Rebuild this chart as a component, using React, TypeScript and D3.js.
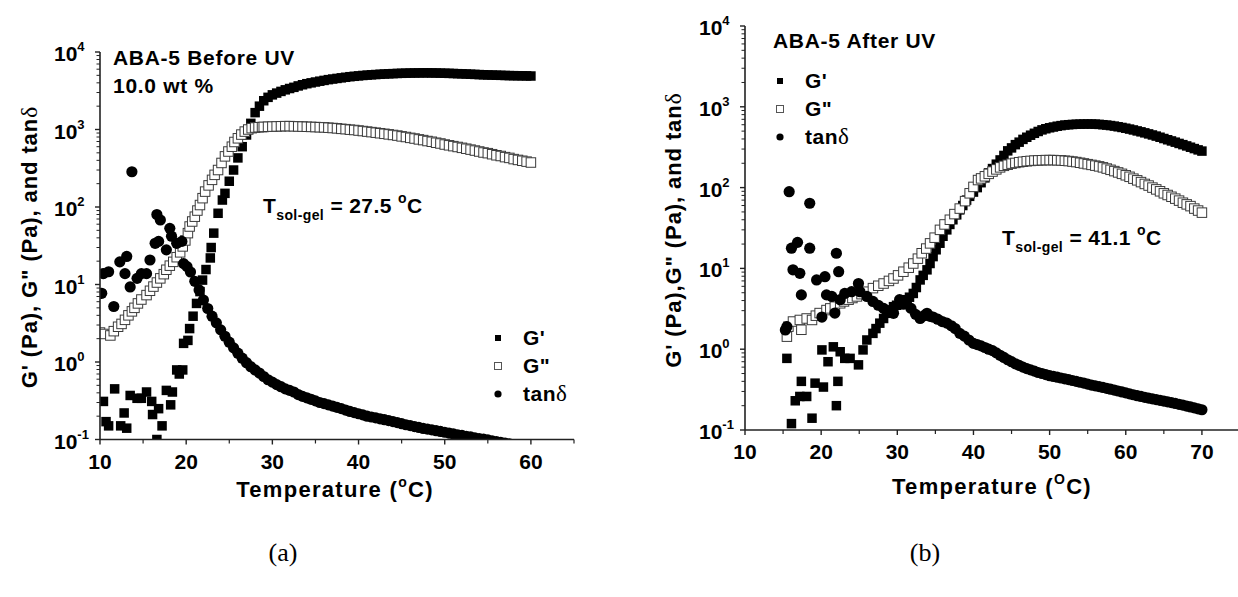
import React from 'react';
import * as d3 from 'd3';

// ---------- panel (a): ABA-5 before UV ----------
// scattered / sparse points as [temperature °C, value]
const aGpSparse: [number, number][] = [
  [10.4, 0.31], [10.7, 0.17], [11.0, 0.15], [11.7, 0.45], [12.4, 0.15], [12.8, 0.22],
  [13.1, 0.14], [13.5, 0.37], [14.3, 0.34], [14.8, 0.34], [15.4, 0.41], [16.0, 0.31],
  [16.1, 0.21], [16.6, 0.1], [16.8, 0.25], [17.2, 0.15], [17.7, 0.43], [18.2, 0.28],
  [18.4, 0.41], [18.9, 0.79], [19.2, 0.7], [19.6, 0.79], [19.7, 1.74], [20.2, 1.9],
  [20.4, 2.7], [20.8, 3.9], [21.2, 5.7], [21.6, 8.1], [21.9, 11.4], [22.3, 15.6],
  [22.8, 22], [22.9, 30], [23.2, 46], [23.7, 83], [24.2, 123],
];
// dense part, one reading every 0.5 °C from the start temperature
const aGpDenseStart = 24.5;
const aGpDense = [
  150, 215, 300, 430, 600, 850, 1200, 1650, 2000, 2350,
  2600, 2800, 2950, 3100, 3250, 3380, 3500, 3650, 3780, 3900,
  4000, 4100, 4200, 4300, 4400, 4480, 4560, 4640, 4720, 4800,
  4860, 4920, 4980, 5030, 5080, 5120, 5160, 5200, 5230, 5260,
  5290, 5310, 5330, 5350, 5360, 5370, 5380, 5380, 5370, 5360,
  5340, 5320, 5300, 5280, 5250, 5230, 5200, 5170, 5140, 5110,
  5080, 5060, 5040, 5020, 5000, 4980, 4960, 4950, 4940, 4930,
  4920, 4900,
];
const aGppSparse: [number, number][] = [
  [10.0, 2.4], [10.4, 2.3], [11.2, 2.2], [11.6, 2.5], [12.1, 2.85], [12.5, 3.1],
  [12.9, 3.5], [13.3, 4.0], [13.7, 4.5], [14.0, 5.0], [14.4, 5.7], [14.8, 6.4],
  [15.4, 7.3], [15.8, 8.3], [16.2, 9.4], [16.6, 10.6], [17.0, 12], [17.4, 13.6],
  [17.7, 15.5], [18.1, 17.5], [18.5, 19.6], [18.9, 22.5], [19.3, 26], [19.6, 31],
  [19.9, 37], [20.2, 46], [20.4, 56], [20.7, 65], [21.0, 75], [21.3, 90],
  [21.6, 106], [21.9, 130], [22.2, 158], [22.6, 190], [23.0, 224], [23.3, 260],
  [23.7, 300], [24.1, 370], [24.5, 450], [24.9, 520], [25.3, 600], [25.6, 690],
  [26.0, 770], [26.4, 860], [26.8, 940], [27.2, 1000], [27.6, 1040], [28.0, 1060],
  [28.4, 1070], [28.8, 1075],
];
const aGppDenseStart = 29.0;
const aGppDense = [
  1080, 1085, 1090, 1095, 1100, 1105, 1105, 1100, 1095, 1090,
  1085, 1080, 1075, 1070, 1065, 1055, 1045, 1035, 1020, 1010,
  995, 985, 970, 955, 940, 925, 910, 895, 880, 865,
  850, 835, 815, 800, 780, 765, 745, 730, 710, 695,
  675, 660, 640, 625, 610, 595, 580, 565, 550, 535,
  520, 505, 495, 480, 465, 455, 440, 430, 415, 405,
  395, 385, 375,
];
const aTanSparse: [number, number][] = [
  [10.2, 7.7], [10.4, 13.8], [11.0, 14.6], [11.6, 5.2], [12.3, 19.6], [12.9, 13.8],
  [13.1, 23], [13.5, 9.3], [13.7, 285], [14.3, 12], [14.8, 13.8], [15.4, 13.8],
  [15.8, 20.7], [16.4, 34], [16.6, 80], [16.8, 36], [17.0, 68], [17.7, 28],
  [18.1, 53], [18.3, 42], [18.9, 34], [19.5, 36], [19.7, 18.6], [20.1, 17],
];
const aTanDenseStart = 20.5;
const aTanDense = [
  14.5, 11, 8.5, 6.3, 4.9, 3.9, 3.2, 2.6, 2.15, 1.8,
  1.52, 1.3, 1.12, 0.98, 0.87, 0.79, 0.72, 0.65, 0.59, 0.55,
  0.51, 0.48, 0.45, 0.43, 0.41, 0.38, 0.36, 0.345, 0.33, 0.315,
  0.3, 0.29, 0.28, 0.27, 0.26, 0.25, 0.24, 0.23, 0.222, 0.215,
  0.208, 0.2, 0.195, 0.19, 0.185, 0.18, 0.175, 0.17, 0.165, 0.16,
  0.155, 0.151, 0.147, 0.143, 0.139, 0.136, 0.133, 0.13, 0.127, 0.124,
  0.121, 0.118, 0.115, 0.113, 0.11, 0.108, 0.105, 0.103, 0.101, 0.099,
  0.096, 0.094, 0.092, 0.09, 0.088, 0.086, 0.084, 0.082, 0.081, 0.079,
];

// ---------- panel (b): ABA-5 after UV ----------
const bGpSparse: [number, number][] = [
  [15.5, 0.77], [16.1, 0.12], [16.6, 0.23], [17.2, 0.26], [17.4, 0.4], [18.1, 0.26],
  [18.8, 0.14], [19.2, 0.38], [20.1, 0.98], [20.3, 0.34], [20.9, 0.7], [21.6, 1.07],
  [22.0, 0.2], [22.2, 0.4], [22.5, 0.93], [23.1, 0.77], [23.8, 0.77], [24.9, 0.64],
  [25.5, 0.98], [26.0, 1.3], [26.8, 1.57], [27.2, 1.8], [27.7, 2.1], [28.2, 2.4],
  [28.6, 2.78], [29.0, 3.0], [29.5, 3.36], [29.9, 3.5], [30.3, 3.7], [30.8, 3.9],
  [31.2, 4.1], [31.6, 4.4], [32.1, 4.9], [32.5, 5.8], [33.0, 7.2], [33.4, 8.2],
  [33.9, 9.6], [34.3, 11.5], [34.7, 14], [35.1, 17], [35.6, 20.5], [36.0, 25],
  [36.5, 30], [36.9, 35], [37.3, 40], [37.8, 46], [38.2, 53], [38.6, 60],
  [39.1, 70], [39.5, 78], [40.0, 88],
];
const bGpDenseStart = 40.5;
const bGpDense = [
  100, 115, 132, 152, 172, 195, 220, 250, 285, 310,
  340, 365, 395, 420, 445, 470, 495, 518, 535, 550,
  562, 575, 585, 595, 600, 605, 608, 610, 612, 612,
  612, 610, 606, 600, 594, 586, 577, 566, 555, 543,
  530, 517, 503, 490, 476, 462, 448, 434, 420, 405,
  391, 378, 365, 352, 340, 328, 316, 304, 293, 283,
];
const bGppSparse: [number, number][] = [
  [15.5, 1.43], [15.7, 1.9], [16.3, 2.2], [17.2, 2.3], [17.4, 1.74], [18.1, 2.4],
  [18.8, 2.3], [19.3, 2.6], [19.8, 2.8], [20.7, 3.05], [21.2, 3.2], [21.8, 3.36],
  [22.5, 3.7], [23.0, 3.9], [23.6, 4.1], [24.1, 4.3], [24.7, 4.5], [25.3, 4.8],
  [26.0, 5.15], [26.8, 5.7], [27.5, 6.1], [28.2, 6.5], [28.9, 7.0], [29.5, 7.5],
  [30.1, 8.2], [30.8, 9.1], [31.5, 10.2], [32.1, 11.5], [32.7, 13.2], [33.2, 15.4],
  [33.8, 17.6], [34.3, 20.4], [34.9, 24], [35.6, 30], [36.2, 35], [36.9, 40],
  [37.5, 47], [38.2, 55], [38.9, 68], [39.5, 85], [40.0, 102], [40.6, 124],
];
const bGppDenseStart = 41.0;
const bGppDense = [
  130, 138, 148, 158, 168, 178, 186, 192, 198, 202,
  206, 209, 212, 214, 216, 217, 218, 219, 219, 219,
  218, 217, 215, 213, 210, 207, 203, 199, 195, 191,
  187, 183, 178, 172, 166, 160, 154, 148, 142, 136,
  129, 123, 117, 111, 106, 100, 95, 90, 85, 81,
  77, 73, 69, 65, 62, 59, 55, 52, 49,
];
const bTanSparse: [number, number][] = [
  [15.3, 1.73], [15.5, 1.9], [15.8, 89], [16.1, 17.8], [16.3, 9.6], [16.9, 21],
  [17.2, 8.7], [17.4, 4.7], [18.5, 64], [18.5, 17.8], [19.4, 7.2], [20.1, 2.5],
  [20.5, 7.9], [20.7, 4.7], [21.4, 4.5], [21.8, 2.8], [22.0, 15.4], [22.3, 9.1],
  [22.5, 4.1], [23.1, 4.9], [24.0, 5.15], [24.9, 6.5], [25.1, 5.15], [26.0, 4.5],
  [26.8, 3.9], [27.5, 3.5], [28.2, 3.2], [28.9, 3.0], [29.5, 2.78], [30.3, 4.1],
  [30.8, 3.6], [31.2, 3.7], [31.8, 3.2], [32.4, 2.7], [33.0, 2.4], [33.5, 2.6],
  [33.9, 2.78], [34.3, 2.55], [34.7, 2.5], [35.3, 2.35], [35.9, 2.2], [36.5, 2.1],
  [37.1, 1.95], [37.6, 1.8], [38.2, 1.57], [38.8, 1.45], [39.4, 1.3], [40.0, 1.18],
];
const bTanDenseStart = 40.5;
const bTanDense = [
  1.14, 1.1, 1.05, 1.0, 0.96, 0.9, 0.84, 0.79, 0.74, 0.7,
  0.66, 0.63, 0.6, 0.575, 0.555, 0.535, 0.515, 0.5, 0.485, 0.47,
  0.46, 0.45, 0.44, 0.43, 0.42, 0.41, 0.4, 0.39, 0.38, 0.37,
  0.36, 0.352, 0.344, 0.336, 0.328, 0.32, 0.312, 0.304, 0.296, 0.288,
  0.28, 0.273, 0.266, 0.26, 0.254, 0.248, 0.243, 0.238, 0.233, 0.228,
  0.223, 0.218, 0.213, 0.208, 0.203, 0.198, 0.193, 0.188, 0.183, 0.178,
];

const xTicksA = [10, 20, 30, 40, 50, 60];
const xTicksB = [10, 20, 30, 40, 50, 60, 70];
const yExponents = [-1, 0, 1, 2, 3, 4];
const legendLabels = ["G'", 'G"', 'tan'];

const SANS = '"Liberation Sans", Arial, sans-serif';
const SERIF = '"Liberation Serif", "Times New Roman", serif';

const withDense = (sparse: [number, number][], t0: number, vals: number[]) =>
  sparse.concat(vals.map((v, i) => [t0 + i * 0.5, v] as [number, number]));

type Pt = [number, number];

function Panel({ id, xDomain, xRange, yRange, xTicks, gp, gpp, tan, children }: {
  id: string; xDomain: [number, number]; xRange: [number, number]; yRange: [number, number];
  xTicks: number[]; gp: Pt[]; gpp: Pt[]; tan: Pt[]; children?: React.ReactNode;
}) {
  const x = d3.scaleLinear().domain(xDomain).range(xRange);
  const y = d3.scaleLog().domain([0.1, 1e4]).range(yRange);
  const [x0, x1] = xRange;
  const [yb, yt] = yRange;
  const minorX = d3.range(xDomain[0] + 5, xDomain[1] + 0.1, 10);
  const minorY: number[] = [];
  yExponents.slice(0, -1).forEach((e) => {
    for (let m = 2; m <= 9; m++) minorY.push(m * Math.pow(10, e));
  });
  const sq = 9.5;
  const axis = '#222';

  return (
    <g>
      <defs>
        <clipPath id={`clip-${id}`}>
          <rect x={x0} y={yt} width={x1 - x0} height={yb - yt} />
        </clipPath>
      </defs>
      <g clipPath={`url(#clip-${id})`}>
        {gp.map(([t, v], i) => (
          <rect key={`gp${i}`} x={x(t) - sq / 2} y={y(v) - sq / 2} width={sq} height={sq} fill="#000" />
        ))}
        {gpp.map(([t, v], i) => (
          <rect key={`gpp${i}`} x={x(t) - sq / 2} y={y(v) - sq / 2} width={sq} height={sq}
            fill="#fff" stroke="#3a3a3a" strokeWidth={1} />
        ))}
        {tan.map(([t, v], i) => (
          <circle key={`tan${i}`} cx={x(t)} cy={y(v)} r={5.6} fill="#000" />
        ))}
      </g>

      {/* axes */}
      <line x1={x0} x2={x0} y1={yt} y2={yb} stroke={axis} strokeWidth={1.6} />
      <line x1={x0} x2={x1} y1={yb} y2={yb} stroke={axis} strokeWidth={1.6} />
      {xTicks.map((t) => (
        <g key={`xt${t}`}>
          <line x1={x(t)} x2={x(t)} y1={yb} y2={yb + 5} stroke={axis} strokeWidth={1.4} />
          <text x={x(t)} y={yb + 29} textAnchor="middle" fontSize={21} fontWeight="bold" fontFamily={SANS}>{t}</text>
        </g>
      ))}
      {minorX.map((t) => (
        <line key={`xm${t}`} x1={x(t)} x2={x(t)} y1={yb} y2={yb + 4} stroke={axis} strokeWidth={1.2} />
      ))}
      {yExponents.map((e) => {
        const ty = y(Math.pow(10, e));
        return (
          <g key={`yt${e}`}>
            <line x1={x0 - 5} x2={x0} y1={ty} y2={ty} stroke={axis} strokeWidth={1.4} />
            <text x={x0 - 46} y={ty + 9} fontSize={21} fontWeight="bold" fontFamily={SANS}>
              10<tspan dy={-10} fontSize={13}>{e < 0 ? `-${-e}` : e}</tspan>
            </text>
          </g>
        );
      })}
      {minorY.map((v) => (
        <line key={`ym${v}`} x1={x0 - 3.5} x2={x0} y1={y(v)} y2={y(v)} stroke={axis} strokeWidth={1} />
      ))}
      {children}
    </g>
  );
}

function Legend({ x, y }: { x: number; y: number }) {
  return (
    <g fontFamily={SANS} fontWeight="bold" fontSize={21}>
      {legendLabels.map((lab, i) => {
        const cy = y + i * 28;
        return (
          <g key={lab}>
            {i === 0 && <rect x={x - 3} y={cy - 3} width={6} height={6} fill="#000" />}
            {i === 1 && <rect x={x - 3.5} y={cy - 3.5} width={7} height={7} fill="#fff" stroke="#555" strokeWidth={1} />}
            {i === 2 && <circle cx={x} cy={cy} r={3.6} fill="#000" />}
            <text x={x + 25} y={cy + 7} letterSpacing={0.5}>
              {lab}
              {i === 2 && <tspan fontFamily={SERIF} fontWeight="normal" fontSize={23}>δ</tspan>}
            </text>
          </g>
        );
      })}
    </g>
  );
}

function TSolGel({ x, y, value }: { x: number; y: number; value: string }) {
  return (
    <text x={x} y={y} fontFamily={SANS} fontWeight="bold" fontSize={21} letterSpacing={0.4}>
      T<tspan fontSize={14} dy={7}>sol-gel</tspan>
      <tspan dy={-7}>{` = ${value} `}</tspan>
      <tspan fontSize={14} dy={-10}>o</tspan>
      <tspan dy={10}>C</tspan>
    </text>
  );
}

export default function App() {
  const gpA = withDense(aGpSparse, aGpDenseStart, aGpDense);
  const gppA = withDense(aGppSparse, aGppDenseStart, aGppDense);
  const tanA = withDense(aTanSparse, aTanDenseStart, aTanDense);
  const gpB = withDense(bGpSparse, bGpDenseStart, bGpDense);
  const gppB = withDense(bGppSparse, bGppDenseStart, bGppDense);
  const tanB = withDense(bTanSparse, bTanDenseStart, bTanDense);

  return (
    <svg width={1238} height={597} style={{ position: 'absolute', left: 0, top: 0, background: '#fff' }}>
      <rect width={1238} height={597} fill="#fff" />
      <Panel id="a" xDomain={[10, 65]} xRange={[100, 574]} yRange={[439.5, 52]} xTicks={xTicksA}
        gp={gpA} gpp={gppA} tan={tanA}>
        <g fontFamily={SANS} fontWeight="bold" fontSize={21} letterSpacing={0.7}>
          <text x={113} y={65}>ABA-5 Before UV</text>
          <text x={113} y={93}>10.0 wt %</text>
        </g>
        <TSolGel x={263} y={213} value="27.5" />
        <Legend x={498} y={338} />
        <text x={335} y={497} textAnchor="middle" fontFamily={SANS} fontWeight="bold" fontSize={22} letterSpacing={1.3}>
          Temperature (<tspan fontSize={14} dy={-10}>o</tspan><tspan dy={10}>C)</tspan>
        </text>
        <text transform="translate(37,247) rotate(-90)" textAnchor="middle" fontFamily={SANS} fontWeight="bold" fontSize={22} letterSpacing={0.9}>
          G' (Pa), G" (Pa), and tan<tspan fontFamily={SERIF} fontWeight="normal" fontSize={24}>δ</tspan>
        </text>
      </Panel>

      <Panel id="b" xDomain={[10, 75]} xRange={[745, 1240]} yRange={[430, 26]} xTicks={xTicksB}
        gp={gpB} gpp={gppB} tan={tanB}>
        <text x={773} y={48} fontFamily={SANS} fontWeight="bold" fontSize={21} letterSpacing={0.7}>ABA-5 After UV</text>
        <Legend x={780} y={81} />
        <TSolGel x={1002} y={245} value="41.1" />
        <text x={992} y={494} textAnchor="middle" fontFamily={SANS} fontWeight="bold" fontSize={22} letterSpacing={1.3}>
          Temperature (<tspan fontSize={14} dy={-10}>O</tspan><tspan dy={10}>C)</tspan>
        </text>
        <text transform="translate(681,230) rotate(-90)" textAnchor="middle" fontFamily={SANS} fontWeight="bold" fontSize={22} letterSpacing={0.9}>
          G' (Pa),G" (Pa), and tan<tspan fontFamily={SERIF} fontWeight="normal" fontSize={24}>δ</tspan>
        </text>
      </Panel>

      <text x={283} y={561} textAnchor="middle" fontFamily={SERIF} fontSize={26}>(a)</text>
      <text x={925} y={561} textAnchor="middle" fontFamily={SERIF} fontSize={26}>(b)</text>
    </svg>
  );
}
